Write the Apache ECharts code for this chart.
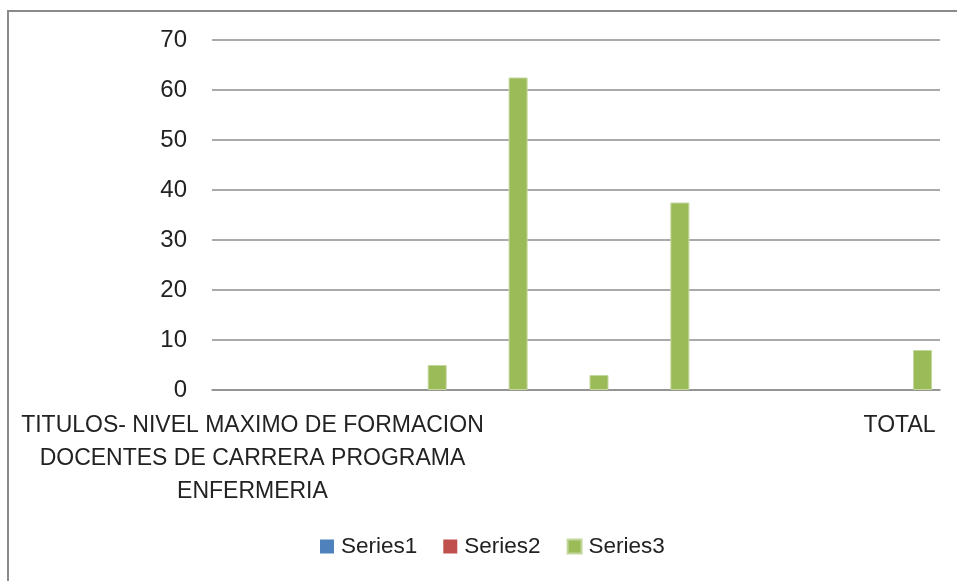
<!DOCTYPE html>
<html>
<head>
<meta charset="utf-8">
<script src="https://cdn.jsdelivr.net/npm/echarts@6/dist/echarts.min.js"></script>
<style>
  html, body { margin: 0; padding: 0; background: #fff; }
  #chart { width: 957px; height: 581px; }
</style>
</head>
<body>
<div id="chart"></div>
<script>
// categorias del eje x (solo la primera y la ultima tienen texto)
const categories = [
  'TITULOS- NIVEL MAXIMO DE FORMACION\nDOCENTES DE CARRERA PROGRAMA\nENFERMERIA',
  '', '', '', '', '', '', '',
  'TOTAL'
]
// valores de las series
const series1 = [null, null, null, null, null, null, null, null, null]
const series2 = [null, null, null, null, null, null, null, null, null]
const series3 = [null, null, 5, 62.5, 3, 37.5, null, null, 8]
const seriesNames = ['Series1', 'Series2', 'Series3']
const colors = ['#4F81BD', '#C0504D', '#9BBB59']

const font = '"Liberation Sans", sans-serif'

const chart = echarts.init(document.getElementById('chart'))

const option = {
  animation: false,
  color: colors,
  textStyle: { fontFamily: font },
  graphic: [
    {
      type: 'rect',
      shape: { x: 8, y: 11, width: 2000, height: 2000 },
      style: { fill: 'none', stroke: '#8a8a8a', lineWidth: 2 },
      silent: true
    }
  ],
  grid: {
    left: 212,
    right: 17,
    top: 40,
    bottom: 191,
    containLabel: false
  },
  legend: {
    bottom: 23,
    left: 320,
    padding: 0,
    itemWidth: 14,
    itemHeight: 14,
    itemGap: 26,
    icon: 'rect',
    data: seriesNames,
    textStyle: {
      fontFamily: font,
      fontSize: 22.5,
      color: '#222',
      padding: [0, 0, 0, 2]
    }
  },
  xAxis: {
    type: 'category',
    data: categories,
    axisTick: { show: false },
    axisLine: { lineStyle: { color: '#8e8e8e', width: 1.5 } },
    axisLabel: {
      interval: 0,
      margin: 19,
      fontFamily: font,
      fontSize: 23,
      lineHeight: 33,
      color: '#222',
      align: 'center'
    }
  },
  yAxis: {
    type: 'value',
    min: 0,
    max: 70,
    interval: 10,
    axisLine: { show: false },
    axisTick: { show: false },
    splitLine: { lineStyle: { color: '#8e8e8e', width: 1.5 } },
    axisLabel: {
      margin: 25,
      fontFamily: font,
      fontSize: 24,
      color: '#222'
    }
  },
  series: [
    { name: seriesNames[0], type: 'bar', data: series1, barWidth: 19, barGap: '21%' },
    { name: seriesNames[1], type: 'bar', data: series2, barWidth: 19, barGap: '21%' },
    {
      name: seriesNames[2],
      type: 'bar',
      data: series3,
      barWidth: 19,
      barGap: '21%',
      itemStyle: { borderColor: '#c4d79e', borderWidth: 1 }
    }
  ]
}
chart.setOption(option)
</script>
</body>
</html>
